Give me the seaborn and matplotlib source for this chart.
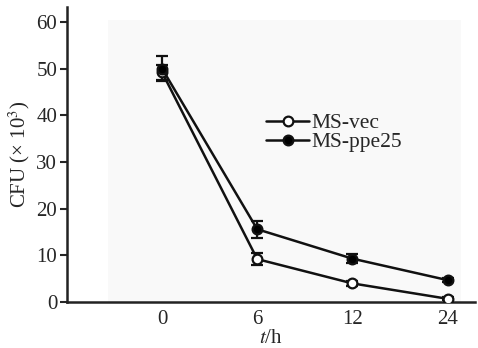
import matplotlib
matplotlib.use("Agg")
import matplotlib.pyplot as plt
import numpy as np
import pandas as pd
import seaborn as sns

# data
times = ["0", "6", "12", "24"]
vec_mean = [49.2, 9.2, 4.0, 0.7]
vec_err = [1.6, 1.3, 0.5, 0.3]
ppe_mean = [50.0, 15.6, 9.3, 4.7]
ppe_err = [2.7, 1.8, 0.9, 0.4]
series = ["MS-vec", "MS-ppe25"]

sns.set_theme(style="white")
plt.rcParams["font.family"] = ["Liberation Serif", "DejaVu Serif"]
plt.rcParams["mathtext.fontset"] = "stix"

pos = np.arange(len(times))
df = pd.DataFrame({
    "pos": np.concatenate([pos, pos]),
    "cfu": vec_mean + ppe_mean,
    "err": vec_err + ppe_err,
    "strain": [series[0]] * len(times) + [series[1]] * len(times),
})

fig = plt.figure(figsize=(4.78, 3.48), dpi=100)
ax = fig.add_axes([0.140, 0.132, 0.854, 0.848])

ax.axvspan(-0.57, 3.14, ymin=0, ymax=60.4 / 63.2, color="#f9f9f9", zorder=0, lw=0)

styles = {"MS-vec": "white", "MS-ppe25": "black"}
for name, face in styles.items():
    sub = df[df["strain"] == name]
    ax.errorbar(sub["pos"], sub["cfu"], yerr=sub["err"], fmt="none",
                ecolor="#111111", elinewidth=1.6, capsize=4.5, capthick=1.6, zorder=2)
    sns.lineplot(data=sub, x="pos", y="cfu", ax=ax, color="#111111", lw=1.8,
                 marker="o", markersize=7, markerfacecolor=face,
                 markeredgecolor="#111111", markeredgewidth=1.6, label=name, zorder=3)

ax.set_xlim(-1.0, 3.29)
ax.set_ylim(0, 63.2)
ax.set_xticks(pos)
ax.set_xticklabels(times)
ax.set_yticks(range(0, 61, 10))
ax.tick_params(axis="x", direction="in", length=5, width=1.5, labelsize=15, pad=6)
ax.tick_params(axis="y", direction="out", length=5, width=1.5, labelsize=15, left=True, pad=2)
ax.set_xlabel("$t$/h", fontsize=15, labelpad=0)
ax.set_ylabel("CFU (× 10$^3$)", fontsize=15, labelpad=3)
sns.despine(ax=ax)
for s in ("left", "bottom"):
    ax.spines[s].set_linewidth(1.8)
    ax.spines[s].set_color("#222222")

ax.legend(loc="upper left", bbox_to_anchor=(0.488, 0.64), frameon=False,
          fontsize=15.5, handlelength=2.0, handletextpad=0.1, labelspacing=-0.05,
          borderaxespad=0, borderpad=0)

fig.savefig("out.png", dpi=100)
